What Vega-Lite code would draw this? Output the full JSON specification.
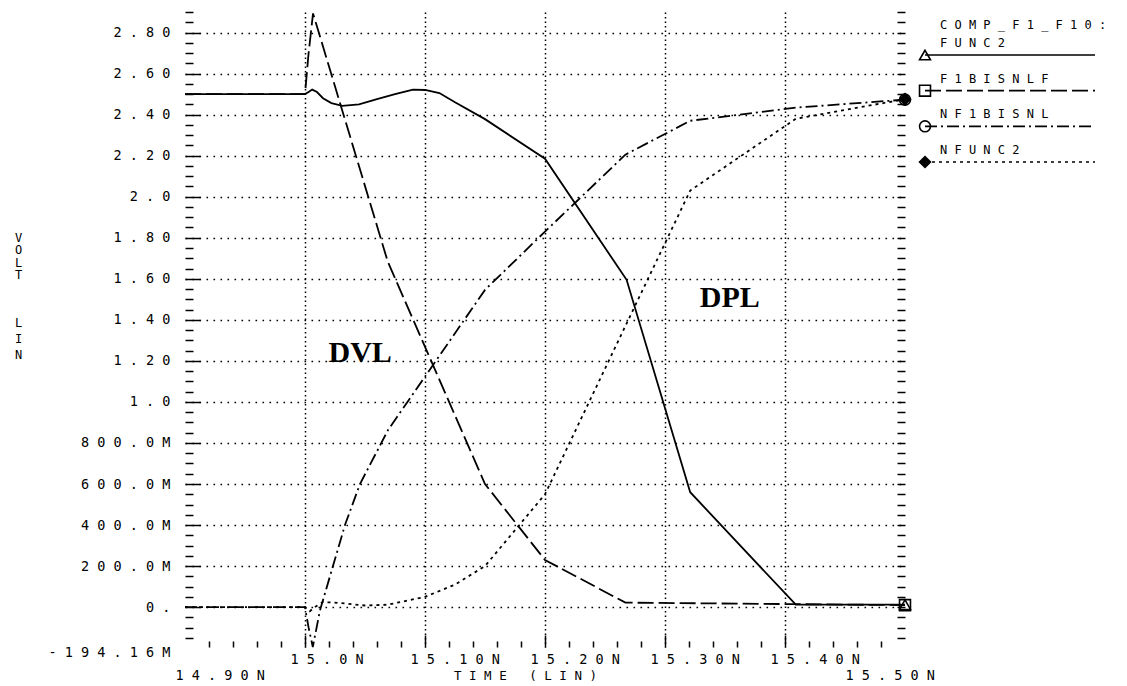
{
  "$schema": "https://vega.github.io/schema/vega-lite/v6.json",
  "width": 720,
  "height": 635,
  "autosize": "none",
  "padding": {"left": 185, "top": 12, "right": 222, "bottom": 39},
  "background": "white",
  "config": {
    "view": {"stroke": null},
    "axis": {"labelColor": "black", "tickColor": "black", "titleColor": "black"}
  },
  "datasets": {
    "curves": [
      {"s": "COMP_F1_F10:FUNC2", "t": 14.9, "v": 2.5},
      {"s": "COMP_F1_F10:FUNC2", "t": 15.0, "v": 2.5},
      {"s": "COMP_F1_F10:FUNC2", "t": 15.003, "v": 2.51},
      {"s": "COMP_F1_F10:FUNC2", "t": 15.006, "v": 2.522},
      {"s": "COMP_F1_F10:FUNC2", "t": 15.01, "v": 2.51},
      {"s": "COMP_F1_F10:FUNC2", "t": 15.015, "v": 2.48},
      {"s": "COMP_F1_F10:FUNC2", "t": 15.022, "v": 2.456},
      {"s": "COMP_F1_F10:FUNC2", "t": 15.031, "v": 2.443},
      {"s": "COMP_F1_F10:FUNC2", "t": 15.045, "v": 2.45},
      {"s": "COMP_F1_F10:FUNC2", "t": 15.06, "v": 2.475},
      {"s": "COMP_F1_F10:FUNC2", "t": 15.075, "v": 2.5},
      {"s": "COMP_F1_F10:FUNC2", "t": 15.09, "v": 2.522},
      {"s": "COMP_F1_F10:FUNC2", "t": 15.1, "v": 2.52},
      {"s": "COMP_F1_F10:FUNC2", "t": 15.112, "v": 2.505},
      {"s": "COMP_F1_F10:FUNC2", "t": 15.125, "v": 2.46},
      {"s": "COMP_F1_F10:FUNC2", "t": 15.15, "v": 2.378},
      {"s": "COMP_F1_F10:FUNC2", "t": 15.2, "v": 2.185},
      {"s": "COMP_F1_F10:FUNC2", "t": 15.268, "v": 1.595},
      {"s": "COMP_F1_F10:FUNC2", "t": 15.321, "v": 0.56},
      {"s": "COMP_F1_F10:FUNC2", "t": 15.409, "v": 0.012},
      {"s": "COMP_F1_F10:FUNC2", "t": 15.5, "v": 0.012},
      {"s": "F1BISNLF", "t": 14.9, "v": 2.5},
      {"s": "F1BISNLF", "t": 15.0, "v": 2.5},
      {"s": "F1BISNLF", "t": 15.003, "v": 2.7},
      {"s": "F1BISNLF", "t": 15.0067, "v": 2.893},
      {"s": "F1BISNLF", "t": 15.069, "v": 1.683},
      {"s": "F1BISNLF", "t": 15.15, "v": 0.6},
      {"s": "F1BISNLF", "t": 15.2, "v": 0.23},
      {"s": "F1BISNLF", "t": 15.267, "v": 0.022},
      {"s": "F1BISNLF", "t": 15.5, "v": 0.01},
      {"s": "NF1BISNL", "t": 14.9, "v": 0.0},
      {"s": "NF1BISNL", "t": 15.0, "v": 0.0},
      {"s": "NF1BISNL", "t": 15.003, "v": -0.1},
      {"s": "NF1BISNL", "t": 15.0065, "v": -0.194},
      {"s": "NF1BISNL", "t": 15.0125, "v": -0.015},
      {"s": "NF1BISNL", "t": 15.0233, "v": 0.2},
      {"s": "NF1BISNL", "t": 15.0333, "v": 0.4},
      {"s": "NF1BISNL", "t": 15.0458, "v": 0.6},
      {"s": "NF1BISNL", "t": 15.0692, "v": 0.863},
      {"s": "NF1BISNL", "t": 15.15, "v": 1.546},
      {"s": "NF1BISNL", "t": 15.2, "v": 1.83},
      {"s": "NF1BISNL", "t": 15.267, "v": 2.205},
      {"s": "NF1BISNL", "t": 15.321, "v": 2.37},
      {"s": "NF1BISNL", "t": 15.409, "v": 2.434},
      {"s": "NF1BISNL", "t": 15.5, "v": 2.473},
      {"s": "NFUNC2", "t": 14.9, "v": 0.0},
      {"s": "NFUNC2", "t": 15.0, "v": 0.0},
      {"s": "NFUNC2", "t": 15.004, "v": -0.02},
      {"s": "NFUNC2", "t": 15.008, "v": 0.0},
      {"s": "NFUNC2", "t": 15.015, "v": 0.025},
      {"s": "NFUNC2", "t": 15.03, "v": 0.02},
      {"s": "NFUNC2", "t": 15.05, "v": 0.008},
      {"s": "NFUNC2", "t": 15.069, "v": 0.012},
      {"s": "NFUNC2", "t": 15.1, "v": 0.05},
      {"s": "NFUNC2", "t": 15.125, "v": 0.11},
      {"s": "NFUNC2", "t": 15.15, "v": 0.2},
      {"s": "NFUNC2", "t": 15.2, "v": 0.55},
      {"s": "NFUNC2", "t": 15.267, "v": 1.37},
      {"s": "NFUNC2", "t": 15.321, "v": 2.03},
      {"s": "NFUNC2", "t": 15.409, "v": 2.38},
      {"s": "NFUNC2", "t": 15.5, "v": 2.475}
    ],
    "legend": [
      {"s": "COMP_F1_F10:FUNC2", "label": "C O M P _ F 1 _ F 1 0 :\nF U N C 2"},
      {"s": "F1BISNLF", "label": "F 1 B I S N L F"},
      {"s": "NF1BISNL", "label": "N F 1 B I S N L"},
      {"s": "NFUNC2", "label": "N F U N C 2"}
    ],
    "notes": [
      {"label": "DVL", "t": 15.046, "v": 1.24},
      {"label": "DPL", "t": 15.354, "v": 1.507}
    ]
  },
  "resolve": {"scale": {"x": "independent", "y": "independent"}},
  "layer": [
    {
      "data": {"name": "curves"},
      "resolve": {"axis": {"x": "independent", "y": "independent"}},
      "layer": [
        {
          "transform": [{"filter": "datum.s === 'COMP_F1_F10:FUNC2'"}],
          "mark": {"type": "line", "color": "black", "strokeWidth": 1.8},
          "encoding": {
            "x": {"field": "t", "type": "quantitative", "scale": {"domain": [14.9, 15.5], "nice": false, "zero": false},
              "axis": {"orient": "bottom", "values": [15, 15.1, 15.2, 15.3, 15.4], "ticks": false, "domain": false, "grid": false,
                "labelExpr": "datum.value < 15.05 ? '1 5 . 0 N' : datum.value < 15.15 ? '1 5 . 1 0 N' : datum.value < 15.25 ? '1 5 . 2 0 N' : datum.value < 15.35 ? '1 5 . 3 0 N' : '1 5 . 4 0 N'",
                "labelFont": "DejaVu Sans Mono", "labelFontSize": 13.5, "labelAlign": "left", "labelBaseline": "middle",
                "labelOffset": -15, "labelPadding": 12, "labelFlush": false, "labelOverlap": false, "title": null}},
            "y": {"field": "v", "type": "quantitative", "scale": {"domain": [-0.19416, 2.9], "nice": false, "zero": false},
              "axis": {"orient": "left", "values": [-0.19416, 0, 0.2, 0.4, 0.6, 0.8, 1, 1.2, 1.4, 1.6, 1.8, 2, 2.2, 2.4, 2.6, 2.8],
                "ticks": false, "domain": false, "grid": false,
                "labelExpr": "datum.value < -0.1 ? '- 1 9 4 . 1 6 M' : ['0 .', '2 0 0 . 0 M', '4 0 0 . 0 M', '6 0 0 . 0 M', '8 0 0 . 0 M', '1 . 0', '1 . 2 0', '1 . 4 0', '1 . 6 0', '1 . 8 0', '2 . 0', '2 . 2 0', '2 . 4 0', '2 . 6 0', '2 . 8 0'][round(datum.value * 5)]",
                "labelFont": "DejaVu Sans Mono", "labelFontSize": 13.5, "labelAlign": "right", "labelBaseline": "middle",
                "labelPadding": 15, "labelOffset": {"condition": {"test": "datum.value < -0.1", "value": 5}, "value": 0},
                "labelFlush": false, "labelOverlap": false,
                "title": ["V", "O", "L", "T"],
                "titleAngle": 0, "titleX": -167, "titleY": 220, "titleAlign": "center", "titleBaseline": "top",
                "titleFont": "DejaVu Sans Mono", "titleFontSize": 12, "titleFontWeight": "normal", "titleLineHeight": 12.5}}
          }
        },
        {
          "transform": [{"filter": "datum.s === 'F1BISNLF'"}],
          "mark": {"type": "line", "color": "black", "strokeWidth": 1.8, "strokeDash": [16, 5]},
          "encoding": {
            "x": {"field": "t", "type": "quantitative", "scale": {"domain": [14.9, 15.5], "nice": false, "zero": false},
              "axis": {"orient": "bottom", "values": [14.9, 15.5], "ticks": false, "domain": false, "grid": false,
                "labelExpr": "datum.value < 15 ? '1 4 . 9 0 N' : '1 5 . 5 0 N'",
                "labelFont": "DejaVu Sans Mono", "labelFontSize": 13.5, "labelAlign": "left", "labelBaseline": "middle",
                "labelPadding": 28, "labelOffset": {"condition": {"test": "datum.value > 15.2", "value": -60}, "value": -10},
                "labelFlush": false, "labelOverlap": false,
                "title": "T I M E \u00a0 ( L I N )", "titleX": 340, "titleY": 28, "titleAlign": "center", "titleBaseline": "middle",
                "titleFont": "DejaVu Sans Mono", "titleFontSize": 12.5, "titleFontWeight": "normal"}},
            "y": {"field": "v", "type": "quantitative", "scale": {"domain": [-0.19416, 2.9], "nice": false, "zero": false},
              "axis": {"orient": "left", "values": [0, 0.2, 0.4, 0.6, 0.8, 1, 1.2, 1.4, 1.6, 1.8, 2, 2.2, 2.4, 2.6, 2.8],
                "ticks": true, "tickSize": -15, "tickWidth": 1.5, "labels": false, "domain": false,
                "grid": true, "gridColor": "black", "gridDash": [1.6, 5.4], "gridWidth": 1.6, "gridOpacity": 1,
                "title": ["L", "I", "N"],
                "titleAngle": 0, "titleX": -167, "titleY": 305, "titleAlign": "center", "titleBaseline": "top",
                "titleFont": "DejaVu Sans Mono", "titleFontSize": 12, "titleFontWeight": "normal", "titleLineHeight": 16}}
          }
        },
        {
          "transform": [{"filter": "datum.s === 'NF1BISNL'"}],
          "mark": {"type": "line", "color": "black", "strokeWidth": 1.8, "strokeDash": [12, 4, 2, 4]},
          "encoding": {
            "x": {"field": "t", "type": "quantitative", "scale": {"domain": [14.9, 15.5], "nice": false, "zero": false},
              "axis": {"orient": "bottom", "values": [15, 15.1, 15.2, 15.3, 15.4], "ticks": true, "tickSize": -12, "tickWidth": 1.5,
                "labels": false, "domain": false,
                "grid": true, "gridColor": "black", "gridDash": [1.5, 3], "gridWidth": 1.5, "gridOpacity": 1, "title": null}},
            "y": {"field": "v", "type": "quantitative", "scale": {"domain": [-0.19416, 2.9], "nice": false, "zero": false},
              "axis": {"orient": "left",
                "values": [-0.15, -0.1, -0.05, 0.05, 0.1, 0.15, 0.25, 0.3, 0.35, 0.45, 0.5, 0.55, 0.65, 0.7, 0.75, 0.85, 0.9, 0.95, 1.05, 1.1, 1.15, 1.25, 1.3, 1.35, 1.45, 1.5, 1.55, 1.65, 1.7, 1.75, 1.85, 1.9, 1.95, 2.05, 2.1, 2.15, 2.25, 2.3, 2.35, 2.45, 2.5, 2.55, 2.65, 2.7, 2.75, 2.85, 2.9],
                "ticks": true, "tickSize": -8, "tickWidth": 1.5, "labels": false, "domain": false, "grid": false, "title": null}}
          }
        },
        {
          "transform": [{"filter": "datum.s === 'NFUNC2'"}],
          "mark": {"type": "line", "color": "black", "strokeWidth": 1.8, "strokeDash": [3, 4]},
          "encoding": {
            "x": {"field": "t", "type": "quantitative", "scale": {"domain": [14.9, 15.5], "nice": false, "zero": false},
              "axis": {"orient": "bottom",
                "values": [14.92, 14.94, 14.96, 14.98, 15.02, 15.04, 15.06, 15.08, 15.12, 15.14, 15.16, 15.18, 15.22, 15.24, 15.26, 15.28, 15.32, 15.34, 15.36, 15.38, 15.42, 15.44, 15.46, 15.48],
                "ticks": true, "tickSize": -6, "tickWidth": 1.5, "labels": false, "domain": false, "grid": false, "title": null}},
            "y": {"field": "v", "type": "quantitative", "scale": {"domain": [-0.19416, 2.9], "nice": false, "zero": false},
              "axis": {"orient": "right",
                "values": [-0.15, -0.1, -0.05, 0, 0.05, 0.1, 0.15, 0.2, 0.25, 0.3, 0.35, 0.4, 0.45, 0.5, 0.55, 0.6, 0.65, 0.7, 0.75, 0.8, 0.85, 0.9, 0.95, 1, 1.05, 1.1, 1.15, 1.2, 1.25, 1.3, 1.35, 1.4, 1.45, 1.5, 1.55, 1.6, 1.65, 1.7, 1.75, 1.8, 1.85, 1.9, 1.95, 2, 2.05, 2.1, 2.15, 2.2, 2.25, 2.3, 2.35, 2.4, 2.45, 2.5, 2.55, 2.6, 2.65, 2.7, 2.75, 2.8, 2.85, 2.9],
                "ticks": true, "tickSize": -8, "tickWidth": 1.5, "labels": false, "domain": false, "grid": false, "title": null}}
          }
        },
        {
          "transform": [{"filter": "datum.t >= 15.5"}],
          "mark": {"type": "point", "filled": false, "stroke": "black", "strokeWidth": 1.6, "size": 120, "opacity": 1},
          "encoding": {
            "x": {"field": "t", "type": "quantitative", "scale": {"domain": [14.9, 15.5], "nice": false, "zero": false}, "axis": null},
            "y": {"field": "v", "type": "quantitative", "scale": {"domain": [-0.19416, 2.9], "nice": false, "zero": false}, "axis": null},
            "shape": {"field": "s", "type": "nominal",
              "scale": {"domain": ["COMP_F1_F10:FUNC2", "F1BISNLF", "NF1BISNL", "NFUNC2"], "range": ["triangle-up", "square", "circle", "diamond"]}, "legend": null},
            "fill": {"field": "s", "type": "nominal",
              "scale": {"domain": ["COMP_F1_F10:FUNC2", "F1BISNLF", "NF1BISNL", "NFUNC2"], "range": ["transparent", "transparent", "transparent", "black"]}, "legend": null}
          }
        },
        {
          "data": {"name": "notes"},
          "mark": {"type": "text", "font": "Liberation Serif", "fontWeight": "bold", "fontSize": 30, "align": "center", "baseline": "middle", "color": "black"},
          "encoding": {
            "x": {"field": "t", "type": "quantitative", "scale": {"domain": [14.9, 15.5], "nice": false, "zero": false}, "axis": null},
            "y": {"field": "v", "type": "quantitative", "scale": {"domain": [-0.19416, 2.9], "nice": false, "zero": false}, "axis": null},
            "text": {"field": "label"}
          }
        }
      ]
    },
    {
      "data": {"name": "legend"},
      "layer": [
        {
          "mark": {"type": "rule", "color": "black", "strokeWidth": 1.6},
          "encoding": {
            "x": {"datum": 0, "type": "quantitative", "scale": {"domain": [0, 1], "range": [740, 910]}, "axis": null},
            "x2": {"datum": 1},
            "y": {"field": "s", "type": "nominal", "scale": {"type": "point", "domain": ["COMP_F1_F10:FUNC2", "F1BISNLF", "NF1BISNL", "NFUNC2"], "range": [43, 150], "padding": 0}, "axis": null},
            "strokeDash": {"field": "s", "type": "nominal",
              "scale": {"domain": ["COMP_F1_F10:FUNC2", "F1BISNLF", "NF1BISNL", "NFUNC2"], "range": [[1, 0], [16, 5], [12, 4, 2, 4], [3, 4]]}, "legend": null}
          }
        },
        {
          "mark": {"type": "point", "filled": false, "stroke": "black", "strokeWidth": 1.6, "size": 120, "opacity": 1},
          "encoding": {
            "x": {"datum": 0, "type": "quantitative", "scale": {"domain": [0, 1], "range": [740, 910]}, "axis": null},
            "y": {"field": "s", "type": "nominal", "scale": {"type": "point", "domain": ["COMP_F1_F10:FUNC2", "F1BISNLF", "NF1BISNL", "NFUNC2"], "range": [43, 150], "padding": 0}, "axis": null},
            "shape": {"field": "s", "type": "nominal",
              "scale": {"domain": ["COMP_F1_F10:FUNC2", "F1BISNLF", "NF1BISNL", "NFUNC2"], "range": ["triangle-up", "square", "circle", "diamond"]}, "legend": null},
            "fill": {"field": "s", "type": "nominal",
              "scale": {"domain": ["COMP_F1_F10:FUNC2", "F1BISNLF", "NF1BISNL", "NFUNC2"], "range": ["white", "white", "white", "black"]}, "legend": null}
          }
        },
        {
          "transform": [{"filter": "datum.s !== 'COMP_F1_F10:FUNC2'"}],
          "mark": {"type": "text", "align": "left", "baseline": "bottom", "dx": 15, "dy": -5,
            "font": "DejaVu Sans Mono", "fontSize": 12, "color": "black"},
          "encoding": {
            "x": {"datum": 0, "type": "quantitative", "scale": {"domain": [0, 1], "range": [740, 910]}, "axis": null},
            "y": {"field": "s", "type": "nominal", "scale": {"type": "point", "domain": ["COMP_F1_F10:FUNC2", "F1BISNLF", "NF1BISNL", "NFUNC2"], "range": [43, 150], "padding": 0}, "axis": null},
            "text": {"field": "label"}
          }
        },
        {
          "transform": [{"filter": "datum.s === 'COMP_F1_F10:FUNC2'"}],
          "mark": {"type": "text", "align": "left", "baseline": "bottom", "dx": 15, "dy": -23, "lineBreak": "\n", "lineHeight": 18,
            "font": "DejaVu Sans Mono", "fontSize": 12, "color": "black"},
          "encoding": {
            "x": {"datum": 0, "type": "quantitative", "scale": {"domain": [0, 1], "range": [740, 910]}, "axis": null},
            "y": {"field": "s", "type": "nominal", "scale": {"type": "point", "domain": ["COMP_F1_F10:FUNC2", "F1BISNLF", "NF1BISNL", "NFUNC2"], "range": [43, 150], "padding": 0}, "axis": null},
            "text": {"field": "label"}
          }
        }
      ]
    }
  ]
}
